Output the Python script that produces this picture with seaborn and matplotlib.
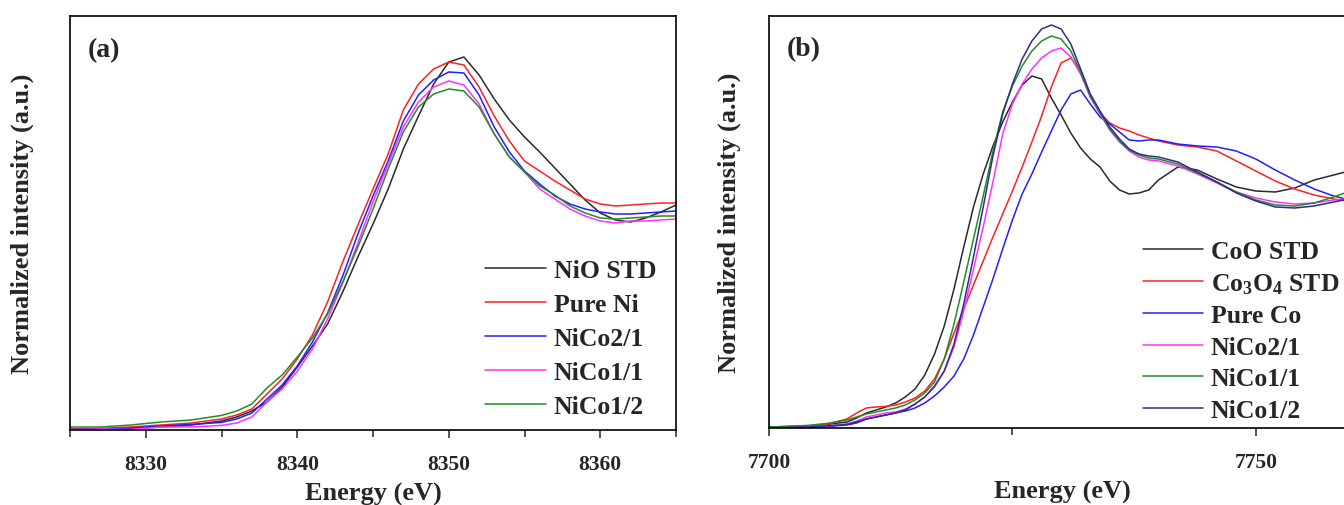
import matplotlib
matplotlib.use("Agg")
import matplotlib.pyplot as plt
from matplotlib.ticker import MultipleLocator
import pandas as pd
import seaborn as sns

# ---- Ni K-edge XANES (panel a) ----
energy_ni = [8325, 8327, 8329, 8331, 8333, 8335, 8336, 8337, 8338, 8339, 8340, 8341,
             8342, 8343, 8344, 8345, 8346, 8347, 8348, 8349, 8350, 8351, 8352, 8353,
             8354, 8355, 8356, 8357, 8358, 8359, 8360, 8361, 8362, 8363, 8364, 8365]
nio_std = [0.000, 0.003, 0.008, 0.015, 0.025, 0.045, 0.065, 0.095, 0.14, 0.215, 0.315, 0.42,
           0.53, 0.69, 0.865, 1.03, 1.205, 1.405, 1.57, 1.73, 1.84, 1.865, 1.775, 1.655,
           1.55, 1.465, 1.39, 1.31, 1.23, 1.15, 1.085, 1.05, 1.04, 1.06, 1.09, 1.125]
pure_ni = [0.005, 0.008, 0.015, 0.025, 0.035, 0.055, 0.075, 0.105, 0.18, 0.255, 0.355, 0.475,
           0.64, 0.84, 1.025, 1.205, 1.38, 1.60, 1.73, 1.805, 1.84, 1.825, 1.715, 1.57,
           1.445, 1.345, 1.295, 1.245, 1.20, 1.155, 1.13, 1.12, 1.125, 1.13, 1.135, 1.135]
nico21_ni = [0.003, 0.005, 0.01, 0.02, 0.028, 0.038, 0.055, 0.085, 0.155, 0.225, 0.32, 0.44,
             0.585, 0.77, 0.98, 1.17, 1.345, 1.545, 1.675, 1.75, 1.79, 1.785, 1.675, 1.515,
             1.39, 1.295, 1.23, 1.17, 1.13, 1.105, 1.09, 1.08, 1.08, 1.085, 1.09, 1.095]
nico11_ni = [0.0, 0.005, 0.003, 0.015, 0.015, 0.023, 0.035, 0.065, 0.14, 0.205, 0.295, 0.405,
             0.555, 0.735, 0.935, 1.14, 1.33, 1.515, 1.64, 1.715, 1.745, 1.725, 1.63, 1.48,
             1.365, 1.29, 1.205, 1.155, 1.105, 1.07, 1.045, 1.035, 1.045, 1.045, 1.05, 1.055]
nico12_ni = [0.015, 0.015, 0.025, 0.04, 0.05, 0.073, 0.095, 0.13, 0.21, 0.275, 0.365, 0.46,
             0.58, 0.74, 0.915, 1.105, 1.305, 1.49, 1.615, 1.68, 1.705, 1.695, 1.615, 1.48,
             1.365, 1.29, 1.22, 1.175, 1.12, 1.085, 1.06, 1.055, 1.06, 1.065, 1.07, 1.07]
labels_ni = ["NiO STD", "Pure Ni", "NiCo2/1", "NiCo1/1", "NiCo1/2"]
colors_ni = ["#2a2a2a", "#ff2020", "#2020ff", "#ff30ff", "#258c25"]

# ---- Co K-edge XANES (panel b) ----
energy_co = [7700, 7702, 7704, 7706, 7708, 7709, 7710, 7711, 7712, 7713, 7714, 7715, 7716,
             7717, 7718, 7719, 7720, 7721, 7722, 7723, 7724, 7725, 7726, 7727, 7728, 7729,
             7730, 7731, 7732, 7733, 7734, 7735, 7736, 7737, 7738, 7739, 7740, 7742, 7744,
             7746, 7748, 7750, 7752, 7754, 7756, 7758, 7760]
coo_std = [0.005, 0.008, 0.01, 0.018, 0.03, 0.05, 0.075, 0.09, 0.105, 0.125, 0.155, 0.195, 0.265,
           0.37, 0.51, 0.695, 0.905, 1.105, 1.27, 1.41, 1.53, 1.63, 1.715, 1.76, 1.745, 1.65,
           1.565, 1.475, 1.40, 1.345, 1.305, 1.235, 1.19, 1.17, 1.175, 1.19, 1.24, 1.305, 1.29,
           1.245, 1.205, 1.185, 1.18, 1.20, 1.24, 1.265, 1.29]
co3o4_std = [0.003, 0.005, 0.01, 0.02, 0.045, 0.075, 0.10, 0.105, 0.108, 0.115, 0.13, 0.15, 0.185,
             0.245, 0.345, 0.475, 0.595, 0.715, 0.835, 0.955, 1.07, 1.185, 1.305, 1.43, 1.56, 1.705,
             1.825, 1.85, 1.785, 1.655, 1.575, 1.525, 1.50, 1.485, 1.465, 1.45, 1.435, 1.415, 1.405,
             1.385, 1.335, 1.285, 1.235, 1.195, 1.165, 1.145, 1.13]
pure_co = [0.003, 0.003, 0.005, 0.008, 0.015, 0.025, 0.045, 0.055, 0.065, 0.075, 0.085, 0.10, 0.125,
           0.16, 0.205, 0.26, 0.345, 0.465, 0.605, 0.745, 0.895, 1.04, 1.17, 1.27, 1.38, 1.485,
           1.59, 1.67, 1.69, 1.62, 1.555, 1.52, 1.48, 1.44, 1.435, 1.44, 1.44, 1.42, 1.41,
           1.405, 1.385, 1.345, 1.29, 1.24, 1.195, 1.16, 1.135]
nico21_co = [0.0, 0.003, 0.005, 0.01, 0.02, 0.035, 0.055, 0.065, 0.075, 0.08, 0.095, 0.12, 0.155,
             0.205, 0.285, 0.405, 0.585, 0.795, 1.005, 1.23, 1.47, 1.62, 1.72, 1.795, 1.85, 1.885,
             1.90, 1.855, 1.77, 1.655, 1.57, 1.49, 1.43, 1.385, 1.355, 1.34, 1.335, 1.31, 1.27,
             1.225, 1.18, 1.15, 1.13, 1.12, 1.125, 1.14, 1.15]
nico11_co = [0.005, 0.008, 0.013, 0.023, 0.04, 0.055, 0.07, 0.08, 0.09, 0.10, 0.115, 0.14, 0.175,
             0.23, 0.345, 0.52, 0.73, 0.945, 1.16, 1.385, 1.58, 1.71, 1.81, 1.885, 1.935, 1.96,
             1.945, 1.885, 1.78, 1.66, 1.575, 1.495, 1.435, 1.39, 1.365, 1.35, 1.345, 1.32, 1.275,
             1.23, 1.18, 1.14, 1.115, 1.11, 1.125, 1.155, 1.19]
nico12_co = [0.0, 0.003, 0.005, 0.01, 0.018, 0.03, 0.045, 0.055, 0.065, 0.075, 0.09, 0.12, 0.155,
             0.21, 0.285, 0.42, 0.62, 0.855, 1.105, 1.36, 1.57, 1.72, 1.845, 1.935, 1.995, 2.015,
             1.995, 1.92, 1.795, 1.67, 1.585, 1.505, 1.445, 1.395, 1.37, 1.36, 1.355, 1.33, 1.28,
             1.23, 1.175, 1.135, 1.105, 1.10, 1.11, 1.13, 1.15]
labels_co = ["CoO STD", r"Co$_3$O$_4$ STD", "Pure Co", "NiCo2/1", "NiCo1/1", "NiCo1/2"]
colors_co = ["#2a2a2a", "#ff2020", "#2020ff", "#ff30ff", "#258c25", "#2c2c90"]


def long_df(energy, series, labels):
    parts = [pd.DataFrame({"energy": energy, "mu": s, "sample": lab})
             for s, lab in zip(series, labels)]
    return pd.concat(parts, ignore_index=True)


df_ni = long_df(energy_ni, [nio_std, pure_ni, nico21_ni, nico11_ni, nico12_ni], labels_ni)
df_co = long_df(energy_co, [coo_std, co3o4_std, pure_co, nico21_co, nico11_co, nico12_co], labels_co)

sns.set_style("ticks")
plt.rcParams['font.family'] = ['Liberation Serif', 'DejaVu Serif']
plt.rcParams['font.weight'] = 'bold'
plt.rcParams['mathtext.fontset'] = 'custom'
plt.rcParams['mathtext.rm'] = 'Liberation Serif:bold'
plt.rcParams['mathtext.it'] = 'Liberation Serif:bold'
plt.rcParams['mathtext.bf'] = 'Liberation Serif:bold'

fig = plt.figure(figsize=(13.44, 5.06), dpi=100)
ax1 = fig.add_axes([0.0521, 0.1482, 0.4509, 0.8182])
ax2 = fig.add_axes([0.5722, 0.1522, 0.4491, 0.8142])

sns.lineplot(data=df_ni, x="energy", y="mu", hue="sample", hue_order=labels_ni,
             palette=colors_ni, ax=ax1, lw=1.1, estimator=None, sort=False)
sns.lineplot(data=df_co, x="energy", y="mu", hue="sample", hue_order=labels_co,
             palette=colors_co, ax=ax2, lw=1.1, estimator=None, sort=False)

ax1.set_xlim(8325, 8365)
ax1.set_ylim(0, 2.07)
ax1.xaxis.set_major_locator(MultipleLocator(10))
ax1.xaxis.set_minor_locator(MultipleLocator(5))

ax2.set_xlim(7700, 7762)
ax2.set_ylim(0, 2.06)
ax2.xaxis.set_major_locator(MultipleLocator(50))
ax2.xaxis.set_minor_locator(MultipleLocator(25))

for ax, tag in [(ax1, "(a)"), (ax2, "(b)")]:
    ax.set_yticks([])
    ax.tick_params(axis="x", which="both", direction="out", labelsize=15.5, width=1.1, pad=11)
    ax.tick_params(axis="x", which="major", length=6)
    ax.tick_params(axis="x", which="minor", length=5)
    for s in ax.spines.values():
        s.set_linewidth(1.2)
        s.set_color("black")
    ax.set_xlabel("Energy (eV)", fontsize=19, fontweight="bold")
    ax.set_ylabel("Normalized intensity (a.u.)", fontsize=19, fontweight="bold")
    ax.text(0.03, 0.92, tag, transform=ax.transAxes, fontsize=20, fontweight="bold",
            va="center", ha="left")

ax1.xaxis.set_label_coords(0.5, -0.125)
ax1.yaxis.set_label_coords(-0.059, 0.5)
ax2.xaxis.set_label_coords(0.486, -0.125)
ax2.yaxis.set_label_coords(-0.046, 0.5)

ax1.legend(loc="lower right", bbox_to_anchor=(0.967, 0.03), frameon=False, fontsize=18.5,
           handlelength=2.35, handletextpad=0.3, labelspacing=0.42, borderpad=0, borderaxespad=0)
ax2.legend(loc="lower right", bbox_to_anchor=(0.945, 0.015), frameon=False, fontsize=18.5,
           handlelength=2.35, handletextpad=0.3, labelspacing=0.33, borderpad=0, borderaxespad=0)

fig.savefig("out.png", dpi=100)
